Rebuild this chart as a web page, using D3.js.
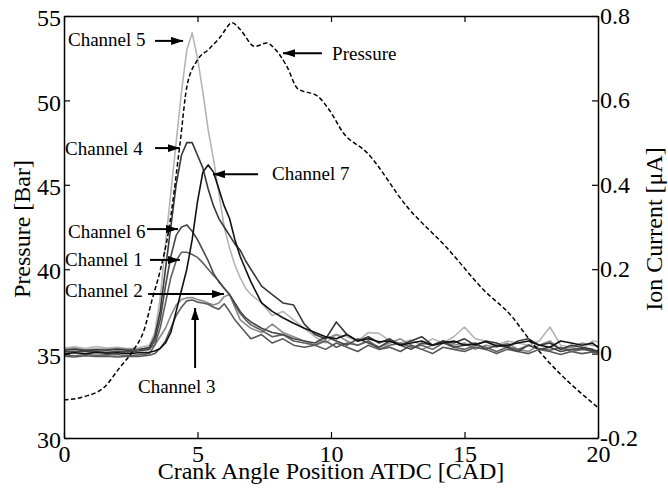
<!DOCTYPE html>
<html>
<head>
<meta charset="utf-8">
<script src="https://cdn.jsdelivr.net/npm/d3@7"></script>
<style>
  body { margin: 0; background: #fff; }
</style>
</head>
<body>
<div id="chart"></div>
<script>
// crank angle samples shared by all ion current channels [CAD]
var angles = [0,0.4,0.8,1.2,1.6,2.0,2.4,2.8,3.2,
    3.4,3.6,3.8,4.0,4.2,4.4,4.6,4.8,5.0,5.2,5.4,5.6,5.8,6.0,6.2,6.4,6.6,6.8,7.0,
    7.4,7.8,8.2,8.6,9.0,9.4,9.8,10.2,10.6,11.0,11.4,11.8,12.2,12.6,13.0,13.4,13.8,14.2,14.6,
    15.0,15.4,15.8,16.2,16.6,17.0,17.4,17.8,18.2,18.6,19.0,19.4,19.8,20]

// ion current per channel [uA]
var channel1 = [-0.003,-0.005,-0.002,-0.004,-0.003,-0.002,-0.005,-0.003,0.0,
    0.02,0.06,0.12,0.18,0.22,0.24,0.24,0.235,0.228,0.215,0.2,0.185,0.172,0.155,0.14,0.115,0.095,0.08,0.068,
    0.055,0.04,0.045,0.03,0.025,0.02,0.03,0.015,0.025,0.02,0.03,0.01,0.02,0.025,0.015,0.02,0.01,0.025,0.015,
    0.01,0.02,0.015,0.005,0.015,0.01,0.02,0.012,0.008,0.015,0.005,0.01,0.008,0.004]
var channel2 = [0.01,0.012,0.009,0.011,0.01,0.012,0.01,0.011,0.012,
    0.02,0.04,0.06,0.09,0.115,0.128,0.132,0.133,0.128,0.125,0.12,0.115,0.12,0.135,0.14,0.11,0.08,0.07,0.06,
    0.05,0.07,0.05,0.04,0.03,0.02,0.035,0.045,0.03,0.02,0.03,0.015,0.025,0.035,0.02,0.01,0.02,0.03,0.02,
    0.025,0.01,0.02,0.015,0.025,0.01,0.005,0.02,0.03,0.01,0.015,0.025,0.02,0.018]
var channel3 = [-0.006,-0.008,-0.005,-0.007,-0.006,-0.008,-0.006,-0.007,-0.004,
    0.0,0.012,0.03,0.06,0.09,0.11,0.125,0.127,0.122,0.12,0.117,0.11,0.105,0.118,0.10,0.08,0.065,0.05,0.035,
    0.045,0.025,0.035,0.02,0.015,0.02,0.01,0.025,0.015,0.005,0.02,0.01,0.015,0.005,0.02,0.01,0.0,0.015,0.01,
    0.005,0.015,0.01,0.0,0.01,0.005,0.0,0.01,0.005,-0.002,0.005,0.0,0.004,0.002]
var channel4 = [0.008,0.01,0.007,0.009,0.008,0.01,0.008,0.009,0.015,
    0.04,0.10,0.20,0.30,0.40,0.47,0.50,0.50,0.47,0.44,0.39,0.35,0.32,0.30,0.28,0.26,0.245,0.22,0.20,
    0.16,0.14,0.12,0.115,0.07,0.045,0.035,0.075,0.045,0.03,0.04,0.025,0.035,0.02,0.03,0.04,0.02,0.03,0.025,
    0.035,0.02,0.03,0.025,0.015,0.03,0.035,0.02,0.025,0.01,0.02,0.015,0.01,0.005]
var channel5 = [0.013,0.016,0.012,0.017,0.013,0.015,0.012,0.014,0.02,
    0.05,0.13,0.26,0.38,0.50,0.62,0.72,0.76,0.70,0.62,0.53,0.46,0.38,0.30,0.25,0.21,0.18,0.155,0.14,
    0.12,0.09,0.10,0.08,0.06,0.04,0.025,0.045,0.04,0.03,0.05,0.048,0.03,0.025,0.032,0.02,0.035,0.025,0.04,
    0.063,0.035,0.03,0.02,0.03,0.025,0.02,0.03,0.063,0.02,0.015,0.01,0.03,0.028]
var channel6 = [0.005,0.004,0.006,0.005,0.003,0.005,0.004,0.006,0.01,
    0.03,0.08,0.16,0.23,0.28,0.30,0.305,0.29,0.27,0.245,0.22,0.19,0.17,0.155,0.14,0.12,0.10,0.085,0.075,
    0.06,0.05,0.045,0.035,0.03,0.025,0.04,0.03,0.02,0.035,0.025,0.015,0.03,0.02,0.01,0.025,0.02,0.03,0.015,
    0.02,0.025,0.01,0.02,0.015,0.005,0.02,0.01,0.015,0.005,0.01,0.012,0.005,0.008]
var channel7 = [0.0,0.002,0.0,0.003,0.001,0.002,0.0,0.002,0.003,
    0.006,0.012,0.025,0.05,0.10,0.15,0.20,0.27,0.36,0.43,0.447,0.43,0.39,0.35,0.32,0.27,0.23,0.20,0.17,
    0.12,0.10,0.085,0.072,0.06,0.05,0.04,0.035,0.045,0.03,0.035,0.028,0.03,0.02,0.025,0.03,0.02,0.025,0.03,
    0.02,0.022,0.028,0.018,0.02,0.025,0.03,0.02,0.015,0.03,0.025,0.02,0.025,0.015]

// cylinder pressure trace [Bar]
var pressureAngles = [0,0.75,1.5,2.1,2.6,3.0,3.3,3.6,3.9,4.35,4.6,5.0,5.4,5.85,6.3,6.6,7.15,7.6,7.9,
    8.35,8.75,9.5,9.95,10.45,11.35,12.85,14.35,15.7,16.8,17.35,18.1,20]
var pressureValues = [32.25,32.45,33.0,34.2,35.2,36.4,38.2,39.9,42.1,47.5,50.8,52.4,53.0,53.75,54.6,54.2,53.2,53.4,53.05,
    52.0,50.7,50.25,49.4,48.1,46.9,43.7,41.25,38.8,37.15,36.0,34.6,31.8]

var angleTicks = [0,5,10,15,20]
var pressureTicks = [30,35,40,45,50,55]
var ionTicks = [-0.2,0,0.2,0.4,0.6,0.8]
var ionTickLabels = ["-0.2","0","0.2","0.4","0.6","0.8"]

var serif = '"Liberation Serif", "DejaVu Serif", serif'
var width = 668, height = 491
var margin = {top: 16, right: 70, bottom: 53, left: 64}

var svg = d3.select('#chart')
    .append('svg')
    .attr('width', width)
    .attr('height', height)
    .attr('font-family', serif)

var xScale = d3.scaleLinear().domain([0, 20]).range([margin.left, width - margin.right])
var yLeft = d3.scaleLinear().domain([30, 55]).range([height - margin.bottom, margin.top])
var yRight = d3.scaleLinear().domain([-0.2, 0.8]).range([height - margin.bottom, margin.top])

// channels drawn light first so the dark ones sit on top
var channels = [
    {name: 'Channel 5', values: channel5, color: '#b4b4b4'},
    {name: 'Channel 2', values: channel2, color: '#8a8a8a'},
    {name: 'Channel 3', values: channel3, color: '#585858'},
    {name: 'Channel 1', values: channel1, color: '#606060'},
    {name: 'Channel 6', values: channel6, color: '#474747'},
    {name: 'Channel 4', values: channel4, color: '#383838'},
    {name: 'Channel 7', values: channel7, color: '#111111'}
]

var ionLine = d3.line()
    .x(function(d, i) { return xScale(angles[i]) })
    .y(function(d) { return yRight(d) })

svg.append('g').selectAll('path')
    .data(channels)
    .enter().append('path')
    .attr('d', function(d) { return ionLine(d.values) })
    .attr('fill', 'none')
    .attr('stroke', function(d) { return d.color })
    .attr('stroke-width', 1.6)
    .attr('stroke-linejoin', 'round')

var pressureLine = d3.line()
    .x(function(d, i) { return xScale(pressureAngles[i]) })
    .y(function(d) { return yLeft(d) })
    .curve(d3.curveMonotoneX)

svg.append('path')
    .attr('d', pressureLine(pressureValues))
    .attr('fill', 'none')
    .attr('stroke', '#000')
    .attr('stroke-width', 1.5)
    .attr('stroke-dasharray', '4.5,2.5')

// axes, matlab style: inward ticks, box all round
function styleAxis(g) {
    g.attr('font-family', serif).attr('font-size', 24)
    g.selectAll('path.domain').attr('stroke', '#000').attr('stroke-width', 1.5)
    g.selectAll('.tick line').attr('stroke', '#000').attr('stroke-width', 1.2)
    g.selectAll('.tick text').attr('fill', '#000')
}

svg.append('g')
    .attr('transform', 'translate(0,' + (height - margin.bottom) + ')')
    .call(d3.axisBottom(xScale).tickValues(angleTicks).tickSizeInner(-6).tickSizeOuter(0).tickPadding(7))
    .call(styleAxis)

svg.append('g')
    .attr('transform', 'translate(0,' + margin.top + ')')
    .call(d3.axisTop(xScale).tickValues(angleTicks).tickSizeInner(-6).tickSizeOuter(0).tickFormat(''))
    .call(styleAxis)

svg.append('g')
    .attr('transform', 'translate(' + margin.left + ',0)')
    .call(d3.axisLeft(yLeft).tickValues(pressureTicks).tickSizeInner(-6).tickSizeOuter(0).tickPadding(3))
    .call(styleAxis)
    .selectAll('.tick text').attr('dy', '0.4em')

svg.append('g')
    .attr('transform', 'translate(' + (width - margin.right) + ',0)')
    .call(d3.axisRight(yRight).tickValues(ionTicks).tickSizeInner(-6).tickSizeOuter(0).tickPadding(2)
        .tickFormat(function(d, i) { return ionTickLabels[i] }))
    .call(styleAxis)
    .selectAll('.tick text').attr('dy', '0.3em')

// axis titles
svg.append('text')
    .attr('x', (xScale(0) + xScale(20)) / 2)
    .attr('y', 479)
    .attr('text-anchor', 'middle')
    .attr('font-size', 24)
    .text('Crank Angle Position ATDC [CAD]')

svg.append('text')
    .attr('transform', 'translate(30,' + ((yLeft(30) + yLeft(55)) / 2 + 2) + ') rotate(-90)')
    .attr('text-anchor', 'middle')
    .attr('font-size', 24)
    .text('Pressure [Bar]')

svg.append('text')
    .attr('transform', 'translate(662,' + ((yLeft(30) + yLeft(55)) / 2 + 2) + ') rotate(-90)')
    .attr('text-anchor', 'middle')
    .attr('font-size', 24)
    .text('Ion Current [\u03bcA]')

// annotations, in data units (angle, ion current)
var notes = [
    {label: 'Channel 5', tx: 0.15, ty: 0.729, x1: 3.41, y1: 0.741, x2: 4.46, y2: 0.741},
    {label: 'Channel 4', tx: 0.04, ty: 0.471, x1: 3.41, y1: 0.487, x2: 4.34, y2: 0.487},
    {label: 'Channel 7', tx: 7.79, ty: 0.411, x1: 7.27, y1: 0.425, x2: 5.58, y2: 0.425},
    {label: 'Channel 6', tx: 0.15, ty: 0.274, x1: 3.11, y1: 0.295, x2: 4.27, y2: 0.295},
    {label: 'Channel 1', tx: 0.04, ty: 0.208, x1: 3.22, y1: 0.222, x2: 4.34, y2: 0.222},
    {label: 'Channel 2', tx: 0.04, ty: 0.134, x1: 3.15, y1: 0.141, x2: 5.99, y2: 0.141},
    {label: 'Channel 3', tx: 2.77, ty: -0.093, x1: 4.91, y1: -0.034, x2: 4.91, y2: 0.108},
    {label: 'Pressure', tx: 10.04, ty: 0.696, x1: 9.66, y1: 0.712, x2: 8.20, y2: 0.712}
]

svg.append('defs').append('marker')
    .attr('id', 'head')
    .attr('viewBox', '0 0 12 8')
    .attr('refX', 12)
    .attr('refY', 4)
    .attr('markerWidth', 12)
    .attr('markerHeight', 8)
    .attr('markerUnits', 'userSpaceOnUse')
    .attr('orient', 'auto')
    .append('path')
    .attr('d', 'M0,0L12,4L0,8Z')
    .attr('fill', '#000')

var note = svg.append('g').selectAll('g')
    .data(notes)
    .enter().append('g')

note.append('line')
    .attr('x1', function(d) { return xScale(d.x1) })
    .attr('y1', function(d) { return yRight(d.y1) })
    .attr('x2', function(d) { return xScale(d.x2) })
    .attr('y2', function(d) { return yRight(d.y2) })
    .attr('stroke', '#000')
    .attr('stroke-width', 2)
    .attr('marker-end', 'url(#head)')

note.append('text')
    .attr('x', function(d) { return xScale(d.tx) })
    .attr('y', function(d) { return yRight(d.ty) })
    .attr('font-size', 19)
    .attr('fill', '#000')
    .text(function(d) { return d.label })
</script>
</body>
</html>
